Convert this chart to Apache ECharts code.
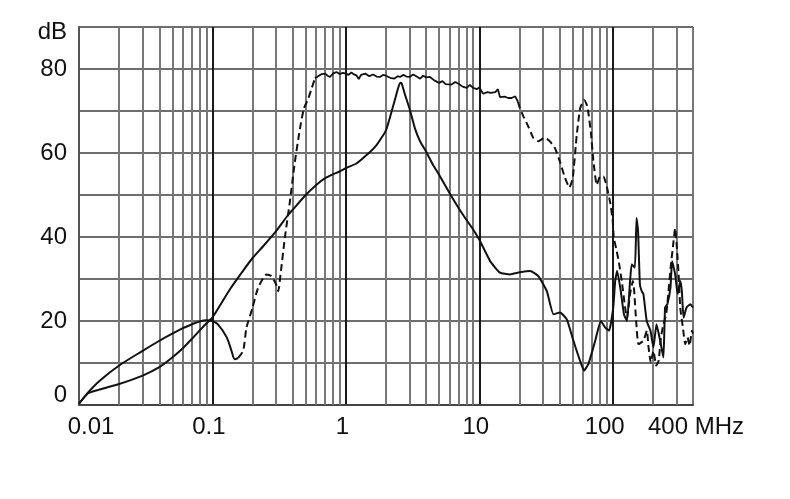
<!DOCTYPE html>
<html>
<head>
<meta charset="utf-8">
<script src="https://cdn.jsdelivr.net/npm/echarts@6/dist/echarts.min.js"></script>
<style>
html,body{margin:0;padding:0;background:#fff;}
#chart{width:790px;height:499px;}
</style>
</head>
<body>
<div id="chart"></div>
<script>
// ---- tick labels ----
var xTickValues = [0.01, 0.1, 1, 10, 100, 400];
var xTickLabels = ['0.01', '0.1', '1', '10', '100', '400 MHz'];
var yTickValues = [0, 20, 40, 60, 80, 90];
var yTickLabels = ['0', '20', '40', '60', '80', 'dB'];

// ---- solid curve [MHz, dB] ----
var solidCurve = [
  [0.01,0.3],[0.0117,2.8],[0.014,3.6],[0.02,5.0],[0.03,7.0],[0.04,9.0],[0.05,11.3],[0.06,13.5],
  [0.07,15.7],[0.08,17.7],[0.09,19.4],[0.1,20.8],[0.135,27.5],[0.17,32],[0.2,35.0],[0.24,37.8],
  [0.3,41.4],[0.37,45.3],[0.4,46.5],[0.5,50.0],[0.6,52.4],[0.7,54.0],[0.8,54.9],[0.9,55.6],
  [1.0,56.4],[1.2,57.5],[1.43,59.5],[1.7,61.9],[2.0,65.4],[2.2,69.8],[2.38,73.7],[2.55,76.7],
  [2.62,76.6],[2.8,73.5],[3.0,70.6],[3.3,65.8],[3.6,62.8],[4.0,60.3],[4.5,57.2],[5.0,54.8],
  [6.0,50.4],[7.0,46.9],[8.0,44.1],[9.0,41.8],[10,39.4],[12.1,34.2],[14.3,31.5],[17,31.1],
  [20.1,31.6],[24.1,31.9],[27.7,30.7],[32.1,27.1],[36,21.6],[40.3,22.0],[45.3,20.4],[50.8,15.3],
  [57,10.5],[61,8.2],[65.8,9.8],[74,15.3],[81.5,20],[88,18.4],[94,17.7],[101,23.2],[104.4,29.5],
  [108,31.9],[115,27.1],[121.5,21.6],[128,20],[135,29.5],[139,33.5],[146.7,32.7],[151,44.5],
  [155,41.4],[160,28.7],[165,27.1],[170,26.4],[180,20],[192,17.7],[202,13.7],[213,19.2],
  [227,15.3],[240,11.3],[247,23.2],[257,24],[271,27.9],[279,34.2],[294,31.1],[307,26.4],
  [321,29.5],[330,27.1],[340,20.8],[358,23.2],[382,24],[400,23.2]
];

// ---- dashed-curve parts [MHz, dB] ----
var dashLow = [
  [0.01,0.3],[0.0117,3.0],[0.0143,5.8],[0.02,9.4],[0.03,12.9],[0.04,15.3],[0.05,17],[0.06,18.3],
  [0.07,19.2],[0.08,19.9],[0.09,20.2],[0.1,20],[0.11,19.2],[0.128,16.1],[0.139,12.9],
  [0.147,10.9],[0.156,11.2]
];
var dashRise = [
  [0.156,11.2],[0.17,12.9],[0.18,18.4],[0.2,23.2],[0.22,27.9],[0.255,31.1],[0.277,30.7],
  [0.3,28.7],[0.311,27.1],[0.324,31.1],[0.349,39.8],[0.381,48.5],[0.415,57.9],[0.453,65.8],
  [0.485,70.6],[0.522,72.9],[0.553,75.3],[0.587,77.8]
];
var dashFlat = [
  [0.587,77.8],[0.62,78.3],[0.66,78.8],[0.7,78.9],[0.73,78.4],[0.76,78.1],[0.8,78.9],[0.85,79.3],
  [0.9,78.8],[0.95,79.1],[1.0,78.9],[1.05,78.6],[1.1,79.2],[1.15,78.7],[1.2,78.5],[1.25,77.6],
  [1.3,78.6],[1.4,78.9],[1.5,78.3],[1.6,78.7],[1.7,78.2],[1.8,78.1],[1.9,78.6],[2.0,78.4],
  [2.15,77.9],[2.3,77.7],[2.45,78.3],[2.55,78.1],[2.7,78.6],[2.85,78.2],[3.0,78.1],[3.2,78.7],
  [3.4,78.2],[3.6,77.7],[3.8,78.4],[4.0,78.0],[4.27,78.1],[4.6,77.3],[5.0,76.7],[5.3,77.1],
  [5.6,76.4],[6.2,76.3],[6.6,76.9],[7.0,76.5],[7.5,75.8],[8.06,75.5],[8.5,76.2],[9.0,75.5],
  [9.58,75.2],[10.0,75.6],[10.7,74.1],[11.5,74.5],[12.2,74.3],[13.2,74.5],[13.8,75.2],
  [14.3,73.3],[15.5,73.4],[16.5,73.1],[17.5,73.1],[18.6,73.5],[19.5,72.2]
];
var dashTail = [
  [19.5,72.2],[20.2,70.6],[21.5,68.6],[23.4,66.2],[25.5,63.5],[27.7,62.8],[30.3,63.5],[32,63.4],
  [34.0,62.7],[37.0,61.1],[40.3,57.9],[44.0,54.0],[47.4,51.8],[50.2,54],[53.8,64.3],[57.0,70.6],
  [61.1,72.6],[64.7,71.0],[68.6,65.0],[71.8,57.9],[76.0,52.4],[80.5,54.4],[85.3,54.4],[90.4,52.0],
  [96,48],[100,44],[102,39.8],[106,37.4],[111,34.2],[117,29.5],[124,23.2],[128,20.8],[135,26.4],
  [141.7,29.5],[145,27.1],[150,20],[156,14.5],[170,15.3],[180.6,17.7],[185.8,13.7],[193,10.1],
  [202,12.9],[212,9.4],[221,10.5],[230,16.1],[240,19.2],[252,21.6],[262,27.1],[273.5,33.5],
  [286,39],[294,42.1],[303,37.4],[312,31.1],[321,23.2],[336,18.4],[350,14.5],[364,16.1],
  [377,14.1],[393,17.7],[400,17]
];

// minor vertical grid positions (2..9 of each decade, within 0.01..400)
var minorGrid = [];
[0.01, 0.1, 1, 10, 100].forEach(function (d) {
  for (var m = 2; m <= 9; m++) {
    var v = +(d * m).toPrecision(3);
    if (v < 400) minorGrid.push({ xAxis: v });
  }
});

var FONT = '"Liberation Sans", Arial, Helvetica, sans-serif';
var FS = 24;
var ink = '#111';

function xLabelIndex(v) {
  var best = 0, bd = Infinity;
  for (var i = 0; i < xTickValues.length; i++) {
    var d = Math.abs(Math.log10(v) - Math.log10(xTickValues[i]));
    if (d < bd) { bd = d; best = i; }
  }
  return bd < 0.02 ? best : -1;
}
var xRichKeys = ['a', 'b', 'b', 'b', 'c', 'd'];

var chart = echarts.init(document.getElementById('chart'), null, { renderer: 'canvas' });
chart.setOption({
  animation: false,
  backgroundColor: '#ffffff',
  grid: { left: 79, right: 97, top: 27, bottom: 94, containLabel: false },
  xAxis: {
    type: 'log',
    logBase: 10,
    min: 0.01,
    max: 400,
    axisLine: { show: true, lineStyle: { color: '#444', width: 2 } },
    axisTick: { show: false },
    splitLine: {
      show: true,
      lineStyle: { color: ['#1a1a1a', '#1a1a1a', '#1a1a1a', '#1a1a1a', '#1a1a1a', '#777'], width: 2 }
    },
    axisLabel: {
      margin: 10,
      fontFamily: FONT,
      fontSize: FS,
      color: '#111',
      showMinLabel: true,
      showMaxLabel: true,
      formatter: function (v) {
        var i = xLabelIndex(v);
        if (i < 0) return '';
        return '{' + xRichKeys[i] + '|' + xTickLabels[i] + '}';
      },
      rich: {
        a: { fontFamily: FONT, fontSize: FS, color: '#111', padding: [0, 0, 0, 24] },
        b: { fontFamily: FONT, fontSize: FS, color: '#111', padding: [0, 7, 0, 0] },
        c: { fontFamily: FONT, fontSize: FS, color: '#111', padding: [0, 16, 0, 0] },
        d: { fontFamily: FONT, fontSize: FS, color: '#111', padding: [0, 0, 0, 6] }
      }
    }
  },
  yAxis: {
    type: 'value',
    min: 0,
    max: 90,
    interval: 10,
    axisLine: { show: true, lineStyle: { color: '#555', width: 2 } },
    axisTick: { show: false },
    splitLine: { show: true, lineStyle: { color: '#6e6e6e', width: 2 } },
    axisLabel: {
      margin: 12,
      fontFamily: FONT,
      fontSize: FS,
      color: '#111',
      formatter: function (v) {
        var i = yTickValues.indexOf(Math.round(v));
        if (i < 0) return '';
        if (i === 0) return '{lo|' + yTickLabels[i] + '}';
        if (i === yTickValues.length - 1) return '{hi|' + yTickLabels[i] + '}';
        return yTickLabels[i];
      },
      rich: {
        lo: { fontFamily: FONT, fontSize: FS, color: '#111', padding: [0, 0, 19, 0] },
        hi: { fontFamily: FONT, fontSize: FS, color: '#111', padding: [10, 0, 0, 0] }
      }
    }
  },
  series: [
    {
      type: 'line', name: 'grid', data: [], silent: true,
      markLine: {
        silent: true, symbol: ['none', 'none'], animation: false,
        label: { show: false },
        lineStyle: { color: '#777', width: 2, type: 'solid' },
        emphasis: { disabled: true },
        data: minorGrid
      }
    },
    {
      type: 'line', name: 'solid', data: solidCurve, showSymbol: false, smooth: 0.15,
      lineStyle: { color: ink, width: 2 }, z: 5
    },
    {
      type: 'line', name: 'dashLow', data: dashLow, showSymbol: false, smooth: 0.3,
      lineStyle: { color: ink, width: 2 }, z: 5
    },
    {
      type: 'line', name: 'dashRise', data: dashRise, showSymbol: false, smooth: 0.2,
      lineStyle: { color: ink, width: 2, type: [7, 4] }, z: 5
    },
    {
      type: 'line', name: 'dashFlat', data: dashFlat, showSymbol: false, smooth: false,
      lineStyle: { color: ink, width: 1.8 }, z: 5
    },
    {
      type: 'line', name: 'dashTail', data: dashTail, showSymbol: false, smooth: 0.15,
      lineStyle: { color: ink, width: 2, type: [7, 4] }, z: 5
    }
  ]
});
</script>
</body>
</html>
